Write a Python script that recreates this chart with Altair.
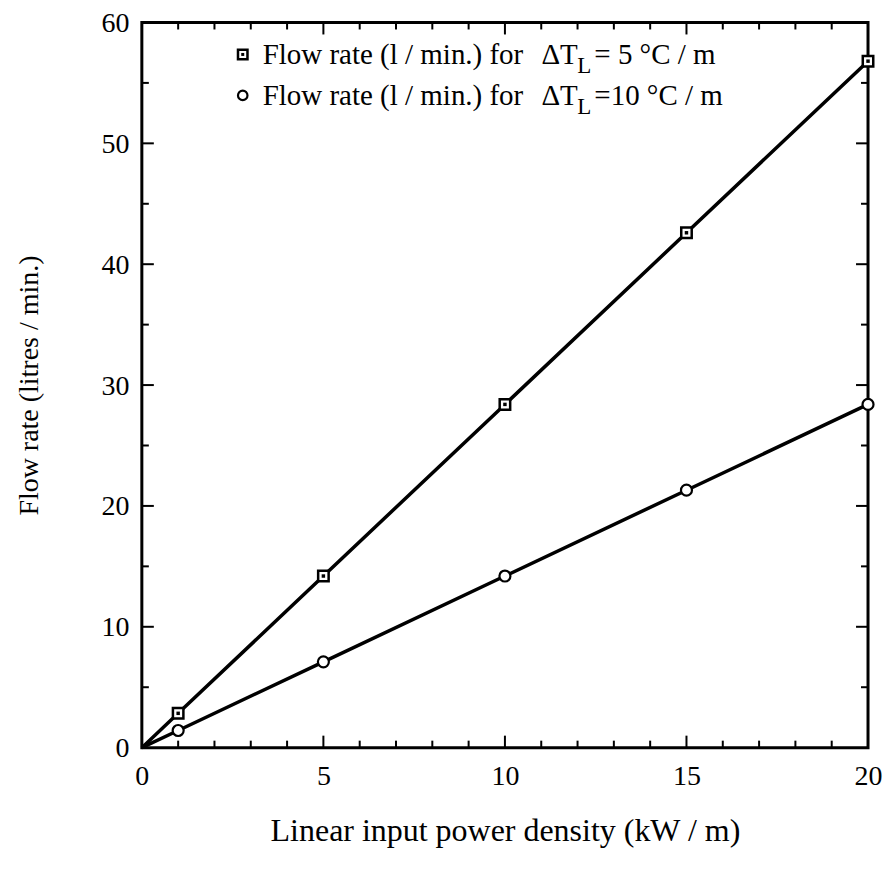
import altair as alt
import pandas as pd

# ---------------- data ----------------
power = [0, 1, 5, 10, 15, 20]                      # kW / m
flow_dt5 = [0, 2.84, 14.2, 28.4, 42.6, 56.8]       # l/min, dT_L = 5 C/m
flow_dt10 = [0, 1.42, 7.1, 14.2, 21.3, 28.4]       # l/min, dT_L = 10 C/m

x_labels = [0, 5, 10, 15, 20]
y_labels = [0, 10, 20, 30, 40, 50, 60]
x_minor = [1, 2, 3, 4, 6, 7, 8, 9, 11, 12, 13, 14, 16, 17, 18, 19]
x_major = [5, 10, 15]
y_minor = [5, 15, 25, 35, 45, 55]
y_major = [10, 20, 30, 40, 50]

x_title = "Linear input power density (kW / m)"
y_title = "Flow rate (litres / min.)"
legend_prefix = "Flow rate (l / min.) for"
legend_delta = "ΔT"
legend_sub = "L"
legend_suffix = ["= 5 °C / m", "=10 °C / m"]

# ---------------- layout / style ----------------
W, H = 727, 726
FONT = "Liberation Serif"
MINOR, MAJOR = 7, 12

rows = []
for p, a, b in zip(power, flow_dt5, flow_dt10):
    rows.append({"power": p, "flow": a, "series": "dt5"})
    rows.append({"power": p, "flow": b, "series": "dt10"})
df = pd.DataFrame(rows)
markers = df[df["power"] > 0]

xs = alt.Scale(domain=[0, 20], nice=False, zero=False)
ys = alt.Scale(domain=[0, 60], nice=False, zero=False)

x_axis = alt.Axis(values=x_labels, ticks=False, tickSize=0, domain=False, grid=False,
                  labelFont=FONT, labelFontSize=28, labelColor="black",
                  labelPadding=37, labelBaseline="alphabetic", labelFlush=False,
                  labelOverlap=False, format="d",
                  titleFont=FONT, titleFontSize=32, titleFontWeight="normal",
                  titleColor="black", titleBaseline="alphabetic", titleY=93)
y_axis = alt.Axis(values=y_labels, ticks=False, tickSize=0, domain=False, grid=False,
                  labelFont=FONT, labelFontSize=28, labelColor="black",
                  labelPadding=13, labelBaseline="middle", labelOffset=1,
                  labelFlush=False, labelOverlap=False, format="d",
                  titleFont=FONT, titleFontSize=28, titleFontWeight="normal",
                  titleColor="black", titleBaseline="alphabetic", titleAngle=-90,
                  titleAlign="center", titleX=-104, titleY=H / 2)


def X():
    return alt.X("power:Q", scale=xs, axis=x_axis, title=x_title)


def Y():
    return alt.Y("flow:Q", scale=ys, axis=y_axis, title=y_title)


lines = alt.Chart(df).mark_line(color="black", strokeWidth=3.5).encode(
    x=X(), y=Y(), detail="series:N", order="power:Q")

sq = alt.Chart(markers[markers.series == "dt5"]).mark_square(
    size=110, fill="white", stroke="black", strokeWidth=2.5, opacity=1).encode(x=X(), y=Y())
sq_dot = alt.Chart(markers[markers.series == "dt5"]).mark_square(
    size=12, color="black", opacity=1).encode(x=X(), y=Y())
circ = alt.Chart(markers[markers.series == "dt10"]).mark_circle(
    size=121, fill="white", stroke="black", strokeWidth=2.2, opacity=1).encode(x=X(), y=Y())


def xticks(vals, length):
    d = pd.DataFrame({"power": vals})
    bot = alt.Chart(d).mark_rule(color="black", strokeWidth=2).encode(
        x=X(), y=alt.value(H), y2=alt.value(H - length))
    top = alt.Chart(d).mark_rule(color="black", strokeWidth=2).encode(
        x=X(), y=alt.value(0), y2=alt.value(length))
    return [bot, top]


def yticks(vals, length):
    d = pd.DataFrame({"flow": vals})
    left = alt.Chart(d).mark_rule(color="black", strokeWidth=2).encode(
        y=Y(), x=alt.value(0), x2=alt.value(length))
    right = alt.Chart(d).mark_rule(color="black", strokeWidth=2).encode(
        y=Y(), x=alt.value(W), x2=alt.value(W - length))
    return [left, right]


tick_layers = xticks(x_minor, MINOR) + xticks(x_major, MAJOR) + \
    yticks(y_minor, MINOR) + yticks(y_major, MAJOR)

# ---------------- legend (drawn by hand for the subscript) ----------------
LFS = 29
LX_SYM, LX_TXT, LX_D, LX_SUB, LX_SUF = 101, 121, 400, 436, 453
LY = [42, 83]          # text baselines (relative to plot top)
one = pd.DataFrame({"k": [0]})


def txt(s, x, y, size=LFS):
    return alt.Chart(pd.DataFrame({"t": [s]})).mark_text(
        font=FONT, fontSize=size, align="left", baseline="alphabetic", color="black"
    ).encode(text="t:N", x=alt.value(x), y=alt.value(y))


legend_layers = [
    alt.Chart(one).mark_square(size=90, fill="white", stroke="black", strokeWidth=2.5,
                               opacity=1).encode(x=alt.value(LX_SYM), y=alt.value(LY[0] - 10)),
    alt.Chart(one).mark_square(size=9, color="black", opacity=1).encode(
        x=alt.value(LX_SYM), y=alt.value(LY[0] - 10)),
    alt.Chart(one).mark_circle(size=90, fill="white", stroke="black", strokeWidth=2.2,
                               opacity=1).encode(x=alt.value(LX_SYM), y=alt.value(LY[1] - 10)),
]
for i, yy in enumerate(LY):
    legend_layers += [
        txt(legend_prefix, LX_TXT, yy),
        txt(legend_delta, LX_D, yy),
        txt(legend_sub, LX_SUB, yy + 9, 23),
        txt(legend_suffix[i], LX_SUF, yy),
    ]

chart = alt.layer(lines, *tick_layers, sq, sq_dot, circ, *legend_layers).properties(
    width=W, height=H,
    autosize=alt.AutoSizeParams(type="none"),
    padding={"left": 134, "top": 14, "right": 15, "bottom": 125},
    background="white",
).configure_view(stroke="black", strokeWidth=3)

chart.save("out.html", embed_options={"renderer": "svg", "actions": False})
